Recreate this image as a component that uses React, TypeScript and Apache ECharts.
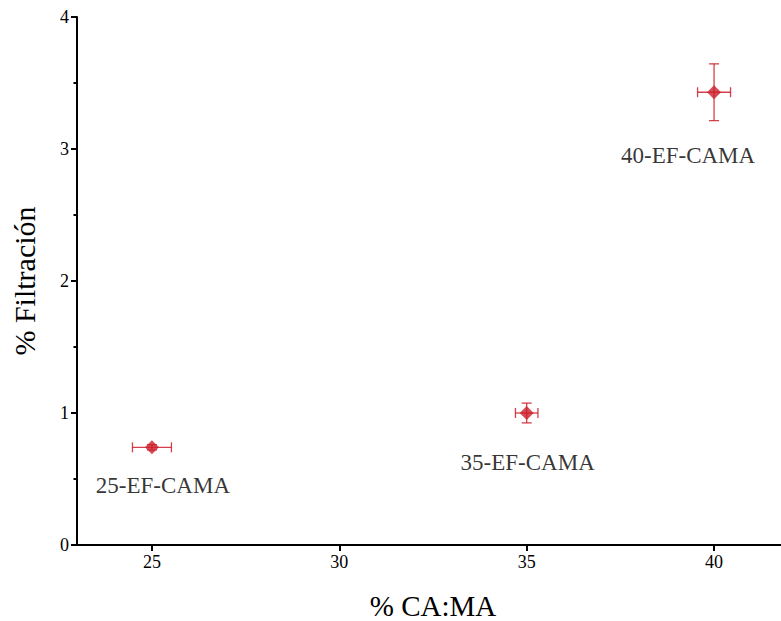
import React, { useEffect, useRef } from "react";
import * as echarts from "echarts";

const labels = ["25-EF-CAMA", "35-EF-CAMA", "40-EF-CAMA"];
const xValues = [25, 35, 40];
const yValues = [0.74, 1.0, 3.43];
const xErrors = [0.52, 0.3, 0.44];
const yErrors = [0.02, 0.075, 0.215];
const xTicks = [25, 30, 35, 40];

const FONT = "Times New Roman, Liberation Serif, Tinos, DejaVu Serif, serif";
const RED = "#cc1f2b";

export default function App() {
  const ref = useRef<HTMLDivElement>(null);
  useEffect(() => {
    if (!ref.current) return;
    const chart = echarts.init(ref.current, undefined, { renderer: "svg" });
    const labelOffsets = [
      [11, 38],
      [1, 49],
      [-26, 63],
    ];
    const scatterData = xValues.map((x, i) => ({
      value: [x, yValues[i]],
      name: labels[i],
      label: {
        show: true,
        position: "inside",
        offset: labelOffsets[i],
        formatter: labels[i],
        color: "#000",
        fontFamily: FONT,
        fontSize: 23,
      },
    }));
    const errData = xValues.map((x, i) => [x, yValues[i], xErrors[i], yErrors[i]]);
    const axisLineStyle = { color: "#000", width: 2 };
    chart.setOption({
      animation: false,
      textStyle: { fontFamily: FONT },
      grid: { left: 77, right: -8, top: 17, bottom: 76, outerBoundsMode: "none", containLabel: false },
      xAxis: [
        {
          type: "value",
          min: 23,
          max: 42,
          name: "% CA:MA",
          nameLocation: "middle",
          nameGap: 46,
          nameTextStyle: { fontFamily: FONT, fontSize: 29, color: "#000" },
          axisLine: { show: true, onZero: false, lineStyle: axisLineStyle },
          axisTick: { show: true, length: 6, customValues: xTicks, lineStyle: axisLineStyle },
          axisLabel: { customValues: xTicks, fontFamily: FONT, fontSize: 18, color: "#000", margin: 8 },
          splitLine: { show: false },
        },
        {
          type: "value",
          position: "top",
          min: 23,
          max: 42,
          axisLine: { show: true, lineStyle: axisLineStyle },
          axisTick: { show: false },
          axisLabel: { show: false },
          splitLine: { show: false },
        },
      ],
      yAxis: {
        type: "value",
        min: 0,
        max: 4,
        interval: 1,
        name: "% Filtración",
        nameLocation: "middle",
        nameGap: 38,
        nameTextStyle: { fontFamily: FONT, fontSize: 30, color: "#000" },
        axisLine: { show: true, onZero: false, lineStyle: axisLineStyle },
        axisTick: { show: true, length: 6, lineStyle: axisLineStyle },
        minorTick: { show: true, splitNumber: 2, length: 3.5, lineStyle: axisLineStyle },
        axisLabel: { fontFamily: FONT, fontSize: 18, color: "#000", margin: 8 },
        splitLine: { show: false },
      },
      series: [
        {
          type: "custom",
          data: errData,
          z: 1,
          renderItem: (params: any, api: any) => {
            const x = api.value(0);
            const y = api.value(1);
            const xe = api.value(2);
            const ye = api.value(3);
            const c = api.coord([x, y]);
            const l = api.coord([x - xe, y]);
            const r = api.coord([x + xe, y]);
            const t = api.coord([x, y + ye]);
            const b = api.coord([x, y - ye]);
            const cap = 5;
            const style = { stroke: "rgba(204,31,43,0.85)", lineWidth: 1.3, fill: "none" };
            return {
              type: "group",
              children: [
                { type: "line", shape: { x1: l[0], y1: c[1], x2: r[0], y2: c[1] }, style },
                { type: "line", shape: { x1: l[0], y1: c[1] - cap, x2: l[0], y2: c[1] + cap }, style },
                { type: "line", shape: { x1: r[0], y1: c[1] - cap, x2: r[0], y2: c[1] + cap }, style },
                { type: "line", shape: { x1: c[0], y1: t[1], x2: c[0], y2: b[1] }, style },
                { type: "line", shape: { x1: c[0] - cap, y1: t[1], x2: c[0] + cap, y2: t[1] }, style },
                { type: "line", shape: { x1: c[0] - cap, y1: b[1], x2: c[0] + cap, y2: b[1] }, style },
              ],
            };
          },
        },
        {
          type: "scatter",
          symbol: "diamond",
          symbolSize: 14,
          z: 2,
          itemStyle: { color: RED },
          data: scatterData,
        },
      ],
    });
    return () => chart.dispose();
  }, []);
  return (
    <div
      ref={ref}
      style={{ position: "fixed", left: 0, top: 0, width: 781, height: 621, background: "#fff" }}
    />
  );
}
